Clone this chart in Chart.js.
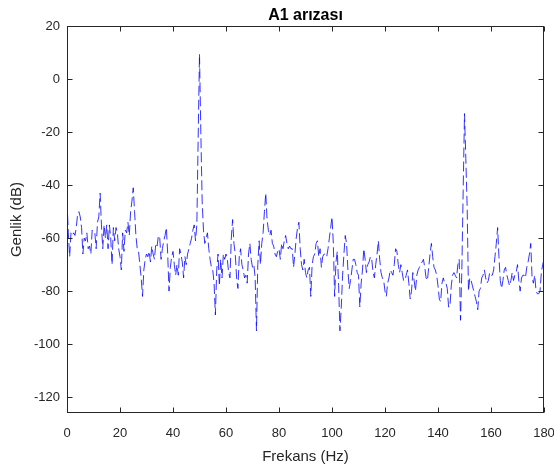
<!DOCTYPE html>
<html lang="tr">
<head>
<meta charset="UTF-8">
<title>A1 arızası</title>
<style>
  html, body { margin: 0; padding: 0; background: #fff; }
  #wrap { width: 554px; height: 470px; }
</style>
</head>
<body>
<div id="wrap"><canvas id="chart" width="554" height="470"></canvas></div>
<script src="https://cdn.jsdelivr.net/npm/chart.js"></script>
<script>
// spectrum samples, 0..180 Hz every 0.5 Hz
const FREQ_STEP = 0.5;
const GAIN_DB = [
  -46,-58,-67,-58,-59,-58,-59,-56,-51,-50,-52,-56,-66,-60,-61,-58,-64,-63,-66,-57,
  -58,-58,-64,-54,-52,-43,-55,-64,-55,-60,-55,-64,-55,-60,-70,-56,-61,-56,-58,-64,
  -67,-72,-58,-65,-57,-58,-54,-59,-50,-46,-41,-50,-59,-64,-65,-70,-75,-82,-72,-68,
  -66,-67,-65,-69,-63,-66,-68,-62,-63,-59,-60,-68,-64,-61,-59,-56,-66,-80,-71,-67,
  -65,-70,-74,-70,-74,-64,-66,-69,-75,-67,-70,-66,-64,-62,-60,-57,-55,-61,-55,-22,
  9.5,-20,-46,-57,-62,-60,-58,-64,-68,-71,-72,-77,-89,-72,-66,-78,-68,-75,-66,-68,
  -66,-68,-73,-75,-60,-53,-62,-66,-75,-79,-67,-64,-70,-72,-75,-74,-77,-66,-62,-68,
  -71,-70,-75,-95,-70,-61,-70,-62,-58,-50,-43,-53,-57,-59,-57,-62,-63,-66,-67,-65,
  -64,-68,-62,-64,-61,-59,-62,-64,-63,-64,-64,-71,-66,-60,-56,-54,-64,-70,-72,-68,
  -73,-75,-72,-71,-82,-70,-67,-66,-62,-61,-67,-64,-71,-67,-66,-66,-67,-64,-60,-56,
  -52,-62,-82,-69,-65,-78,-95,-86,-74,-66,-59,-62,-72,-79,-76,-72,-68,-68,-70,-73,
  -74,-86,-77,-72,-64,-68,-73,-70,-69,-67,-68,-73,-75,-70,-66,-61,-68,-73,-75,-76,
  -80,-82,-77,-75,-72,-73,-74,-70,-64,-65,-70,-73,-70,-73,-76,-76,-74,-72,-77,-83,
  -80,-73,-76,-80,-74,-72,-71,-70,-69,-68,-71,-75,-76,-71,-66,-62,-67,-71,-72,-74,
  -78,-83,-84,-77,-75,-77,-77,-79,-86,-86,-78,-74,-73,-74,-75,-70,-68,-91,-72,-42,
  -13,-30,-48,-80,-75,-76,-78,-80,-82,-84,-87,-80,-79,-75,-74,-72,-75,-77,-76,-73,
  -74,-74,-72,-67,-62,-56,-67,-76,-79,-76,-72,-71,-74,-76,-78,-76,-73,-76,-74,-73,
  -70,-76,-80,-75,-74,-74,-75,-71,-69,-66,-62,-75,-77,-74,-80,-81,-81,-80,-73,-70,
  -68
];
const X_TICKS = [0, 20, 40, 60, 80, 100, 120, 140, 160, 180];
const Y_TICKS = [-120, -100, -80, -60, -40, -20, 0, 20];

const AXIS_COLOR = '#262626';
const FONT = '"Liberation Sans", Arial, sans-serif';

const points = GAIN_DB.map((g, i) => ({ x: i * FREQ_STEP, y: g }));

// matlab style box with inward ticks on all four sides
const boxTicks = {
  id: 'boxTicks',
  afterDraw(chart) {
    const { ctx, chartArea: a, scales: { x, y } } = chart;
    const L = Math.round(a.left) + 0.5, R = Math.round(a.right) - 0.5;
    const T = Math.round(a.top) + 0.5, B = Math.round(a.bottom) - 0.5;
    ctx.save();
    ctx.strokeStyle = AXIS_COLOR;
    ctx.lineWidth = 1;
    ctx.strokeRect(L, T, R - L, B - T);
    ctx.beginPath();
    X_TICKS.forEach(v => {
      const px = Math.round(x.getPixelForValue(v)) + 0.5;
      ctx.moveTo(px, B); ctx.lineTo(px, B - 5);
      ctx.moveTo(px, T); ctx.lineTo(px, T + 5);
    });
    Y_TICKS.forEach(v => {
      const py = Math.round(y.getPixelForValue(v)) + 0.5;
      ctx.moveTo(L, py); ctx.lineTo(L + 5, py);
      ctx.moveTo(R, py); ctx.lineTo(R - 5, py);
    });
    ctx.stroke();
    ctx.restore();
  }
};

new Chart(document.getElementById('chart'), {
  type: 'line',
  data: {
    datasets: [{
      data: points,
      borderColor: '#0000ff',
      borderWidth: 0.8,
      borderDash: [10, 4],
      pointRadius: 0,
      tension: 0,
      fill: false
    }]
  },
  options: {
    responsive: false,
    animation: false,
    layout: { padding: 0 },
    plugins: {
      legend: { display: false },
      tooltip: { enabled: false },
      title: {
        display: true,
        text: 'A1 arızası',
        fullSize: false,
        color: '#000',
        font: { family: FONT, size: 16, weight: 'bold' },
        padding: { top: 6, bottom: 1 }
      }
    },
    scales: {
      x: {
        type: 'linear',
        min: 0,
        max: 180,
        afterBuildTicks: s => { s.ticks = X_TICKS.map(v => ({ value: v })); },
        afterFit: s => { s.height = 57; s.paddingLeft = 0; s.paddingRight = 10; },
        grid: { display: false, drawTicks: false },
        border: { display: false },
        ticks: { color: AXIS_COLOR, padding: 13, maxRotation: 0, font: { family: FONT, size: 13 } },
        title: {
          display: true, text: 'Frekans (Hz)', color: AXIS_COLOR,
          font: { family: FONT, size: 15 }, padding: { top: 0, bottom: 4 }
        }
      },
      y: {
        min: -126,
        max: 20,
        afterBuildTicks: s => { s.ticks = Y_TICKS.map(v => ({ value: v })); },
        afterFit: s => { s.width = 67; },
        grid: { display: false, drawTicks: false },
        border: { display: false },
        ticks: { color: AXIS_COLOR, padding: 7, font: { family: FONT, size: 13 } },
        title: {
          display: true, text: 'Genlik (dB)', color: AXIS_COLOR,
          font: { family: FONT, size: 15 }, padding: { top: 8, bottom: 0 }
        }
      }
    }
  },
  plugins: [boxTicks]
});
</script>
</body>
</html>
